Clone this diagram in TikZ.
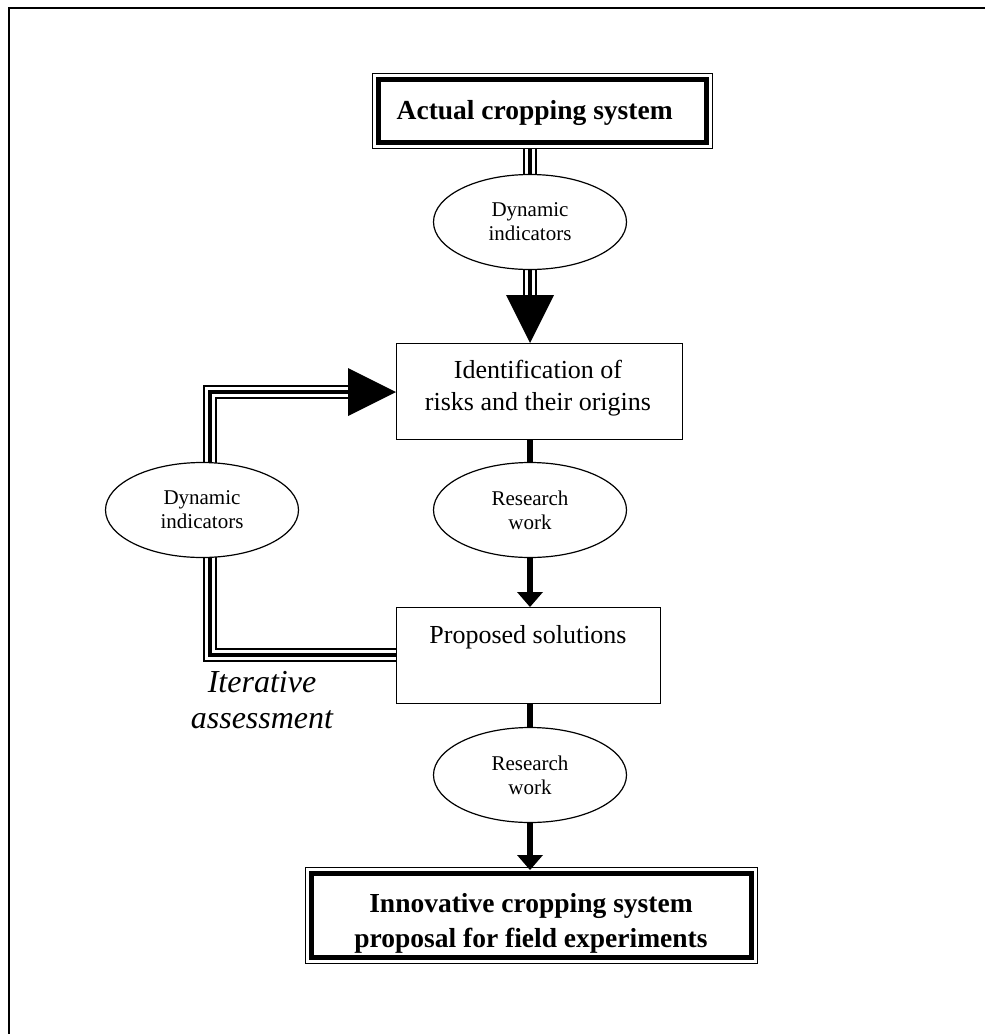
\documentclass[tikz,border=0pt]{standalone}
\usepackage{fontspec}
\setmainfont{Liberation Serif}
\usetikzlibrary{calc,shapes.geometric,backgrounds}
\tikzset{
  plainbox/.style={draw, line width=1.3pt, rectangle, inner sep=0pt, fill=white},
  outerbox/.style={draw, line width=1.4pt, rectangle, inner sep=0pt, fill=white},
  ell/.style={draw, ellipse, line width=1.2pt, minimum width=193pt, minimum height=95pt,
    inner sep=0pt, fill=white, align=center, font=\fontsize{21}{24}\selectfont},
  boxtext/.style={align=center, inner sep=0pt, font=\fontsize{26}{32}\selectfont},
  boldtext/.style={align=center, inner sep=0pt, font=\fontsize{27.5}{35}\selectfont\bfseries},
  itext/.style={align=center, inner sep=0pt, font=\fontsize{32}{36}\selectfont\itshape},
  triple/.style={line width=14pt, postaction={draw=white, line width=10pt},
    postaction={draw=black, line width=4pt}},
  solidline/.style={line width=6pt},
}
\begin{document}
\begin{tikzpicture}[x=1pt,y=-1pt]
\useasboundingbox (0,0) rectangle (985,1034);
% frame
\draw[line width=2pt] (9,1034) -- (9,8) -- (985,8);

% boxes and ellipses
\node[outerbox, minimum width=340pt, minimum height=75pt, anchor=north west] (b1) at (372,73) {};
\draw[line width=5pt] ($(b1.north west)+(6.5,6.5)$) rectangle ($(b1.south east)+(-6.5,-6.5)$);
\node[boldtext] (t1) at ($(b1.center)+(-8,2)$) {Actual cropping system};

\node[ell] (e1) at (530,222) {Dynamic\\indicators};

\node[plainbox, minimum width=286pt, minimum height=96pt, anchor=north west] (b2) at (396,343) {};
\node[boxtext, anchor=base] (t2) at (538,410) {Identification of\\risks and their origins};

\node[ell] (e0) at (202,510) {Dynamic\\indicators};
\node[ell] (e2) at (530,510) {Research\\work};

\node[plainbox, minimum width=264pt, minimum height=96pt, anchor=north west] (b3) at (396,607) {};
\node[boxtext, anchor=base] (t3) at (528,643) {Proposed solutions};

\node[itext, anchor=base] (it) at (262,728) {Iterative\\assessment};

\node[ell] (e3) at (530,775) {Research\\work};

\node[outerbox, minimum width=452pt, minimum height=96pt, anchor=north west] (b4) at (305,867) {};
\draw[line width=5pt] ($(b4.north west)+(6.5,6.5)$) rectangle ($(b4.south east)+(-6.5,-6.5)$);
\node[boldtext, anchor=base] (t4) at (531,947) {Innovative cropping system\\proposal for field experiments};

% connectors (behind nodes)
\coordinate (c1) at (210,392);
\coordinate (c2) at (210,655);
\begin{scope}[on background layer]
  \draw[triple] (b1.south -| e1.north) -- ($(e1.north)+(0,6)$);
  \draw[triple] ($(e1.south)+(0,-6)$) -- ($(e1.south |- b2.north)+(0,-46)$);
  \draw[triple] ($(b2.west |- c1)+(-46,0)$) -- (c1) -- ($(e0.north -| c1)+(0,8)$);
  \draw[triple] ($(e0.south -| c1)+(0,-8)$) -- (c2) -- (b3.west |- c2);
  \draw[solidline] (b2.south -| e2.north) -- ($(e2.north)+(0,4)$);
  \draw[solidline] ($(e2.south)+(0,-4)$) -- ($(e2.south |- b3.north)+(0,-12)$);
  \draw[solidline] (b3.south -| e3.north) -- ($(e3.north)+(0,4)$);
  \draw[solidline] ($(e3.south)+(0,-4)$) -- ($(e3.south |- b4.north)+(0,-10)$);
\end{scope}
% arrowheads
\fill (e1.south |- b2.north) -- ++(-24,-48) -- ++(48,0) -- cycle;
\fill (b2.west |- c1) -- ++(-48,-24) -- ++(0,48) -- cycle;
\fill (e2.south |- b3.north) -- ++(-13,-15) -- ++(26,0) -- cycle;
\fill ($(e3.south |- b4.north)+(0,3)$) -- ++(-13,-15) -- ++(26,0) -- cycle;
\end{tikzpicture}
\end{document}
